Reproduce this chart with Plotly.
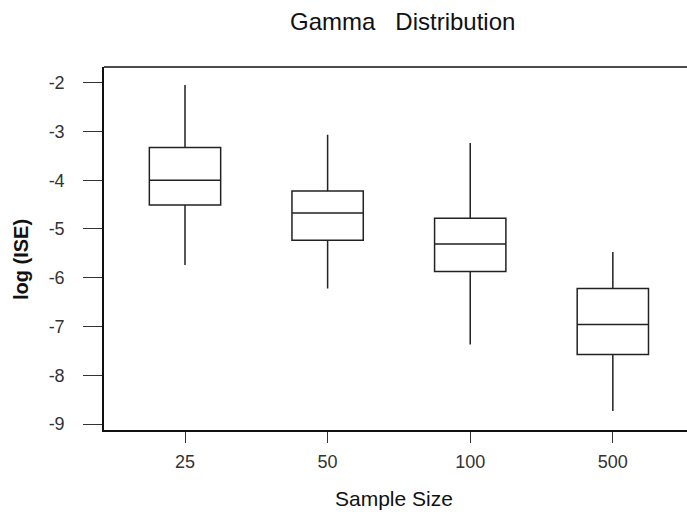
import plotly.graph_objects as go

categories = ["25", "50", "100", "500"]
upper_whisker = [-2.05, -3.07, -3.24, -5.47]
q3_values = [-3.33, -4.22, -4.78, -6.22]
median_values = [-4.00, -4.67, -5.31, -6.96]
q1_values = [-4.51, -5.23, -5.87, -7.57]
lower_whisker = [-5.74, -6.22, -7.37, -8.73]
y_ticks = [-2, -3, -4, -5, -6, -7, -8, -9]

W, H = 687, 516
ML, MR, MT, MB = 104, 0, 67, 86

fig = go.Figure()
fig.add_trace(go.Box(
    x=categories,
    q1=q1_values, median=median_values, q3=q3_values,
    lowerfence=lower_whisker, upperfence=upper_whisker,
    width=0.5, whiskerwidth=0,
    fillcolor="white",
    line=dict(color="#222222", width=1.5),
    boxpoints=False, showlegend=False, hoverinfo="skip",
))

tick_font = dict(family="Liberation Sans, Arial", size=18, color="#333333")

fig.update_layout(
    width=W, height=H,
    margin=dict(l=ML, r=MR, t=MT, b=MB, pad=0),
    paper_bgcolor="white", plot_bgcolor="white",
    showlegend=False,
    xaxis=dict(
        type="category", range=[-0.568, 3.52],
        showgrid=False, zeroline=False,
        showline=True, linecolor="#111111", linewidth=1.5,
        ticks="outside", ticklen=11, tickwidth=1.2, tickcolor="#333333",
        tickfont=tick_font, ticklabelstandoff=4,
    ),
    yaxis=dict(
        range=[-9.12, -1.68],
        tickvals=y_ticks, ticktext=[str(v) for v in y_ticks],
        showgrid=False, zeroline=False,
        showline=True, linecolor="#111111", linewidth=1.5,
        ticks="outside", ticklen=19, tickwidth=1.2, tickcolor="#333333",
        tickfont=tick_font, ticklabelstandoff=15,
    ),
    shapes=[dict(type="line", xref="paper", yref="paper", x0=0, x1=1, y0=1, y1=1,
                 line=dict(color="#111111", width=1.5))],
    annotations=[
        dict(text="Gamma\u00a0\u00a0 Distribution", xref="paper", yref="paper",
             x=(402.5 - ML) / (W - ML - MR), y=1 + (67 - 22) / (H - MT - MB),
             xanchor="center", yanchor="middle", showarrow=False,
             font=dict(family="Liberation Sans, Arial", size=24, color="#111111")),
        dict(text="Sample Size", xref="paper", yref="paper",
             x=(394 - ML) / (W - ML - MR), y=-(498 - 430) / (H - MT - MB),
             xanchor="center", yanchor="middle", showarrow=False,
             font=dict(family="Liberation Sans, Arial", size=21, color="#111111")),
        dict(text="<b>log (ISE)</b>", xref="paper", yref="paper",
             x=-(104 - 21) / (W - ML - MR), y=1 - (260 - 67) / (H - MT - MB),
             xanchor="center", yanchor="middle", showarrow=False, textangle=-90,
             font=dict(family="Liberation Sans, Arial", size=20, color="#111111")),
    ],
)

fig.write_html("out.html", config={"displayModeBar": False},
               post_script="document.body.style.margin='0px';")
